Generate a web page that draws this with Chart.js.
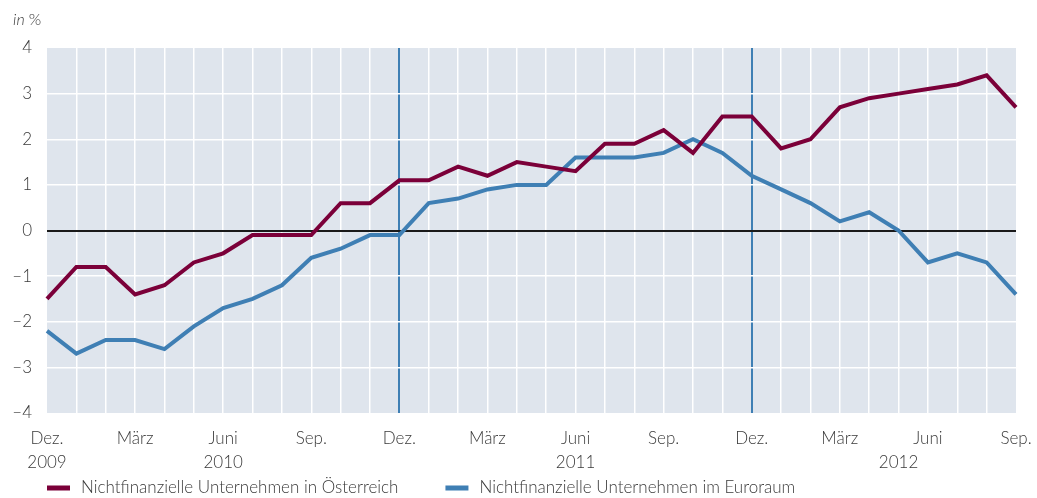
<!DOCTYPE html>
<html lang="de">
<head>
    <meta charset="UTF-8">
    <title>Nichtfinanzielle Unternehmen</title>
    <script src="https://cdn.jsdelivr.net/npm/chart.js"></script>
    <style>
        html, body { margin: 0; padding: 0; background: #fff; }
        .chart-box { position: relative; width: 1037px; height: 498px; }
    </style>
</head>
<body>
    <div class="chart-box">
        <canvas id="kreditChart"></canvas>
    </div>

    <script>
        // Monate Dez. 2009 bis Sep. 2012
        var monthLabels = ['Dez.', '', '', 'März', '', '', 'Juni', '', '', 'Sep.', '', '',
            'Dez.', '', '', 'März', '', '', 'Juni', '', '', 'Sep.', '', '',
            'Dez.', '', '', 'März', '', '', 'Juni', '', '', 'Sep.'];
        var yearLabels = ['2009', '', '', '', '', '', '2010', '', '', '', '', '',
            '', '', '', '', '', '', '2011', '', '', '', '', '',
            '', '', '', '', '', '2012', '', '', '', ''];

        var austria = [-1.5, -0.8, -0.8, -1.4, -1.2, -0.7, -0.5, -0.1, -0.1, -0.1, 0.6, 0.6,
            1.1, 1.1, 1.4, 1.2, 1.5, 1.4, 1.3, 1.9, 1.9, 2.2, 1.7, 2.5,
            2.5, 1.8, 2.0, 2.7, 2.9, 3.0, 3.1, 3.2, 3.4, 2.7];
        var euroArea = [-2.2, -2.7, -2.4, -2.4, -2.6, -2.1, -1.7, -1.5, -1.2, -0.6, -0.4, -0.1,
            -0.1, 0.6, 0.7, 0.9, 1.0, 1.0, 1.6, 1.6, 1.6, 1.7, 2.0, 1.7,
            1.2, 0.9, 0.6, 0.2, 0.4, 0.0, -0.7, -0.5, -0.7, -1.4];

        var seriesNames = ['Nichtfinanzielle Unternehmen in Österreich', 'Nichtfinanzielle Unternehmen im Euroraum'];
        var yTicks = [-4, -3, -2, -1, 0, 1, 2, 3, 4];
        var yearMarkers = [12, 24]; // Dez. 2010, Dez. 2011

        var fontFamily = "Lato, 'Open Sans', sans-serif";
        var textColor = '#3a3a3a';

        // plot background
        var plotBackground = {
            id: 'plotBackground',
            beforeDraw: function (chart) {
                var a = chart.chartArea, ctx = chart.ctx;
                ctx.save();
                ctx.fillStyle = '#dfe5ed';
                ctx.fillRect(a.left, a.top, a.right - a.left, a.bottom - a.top);
                ctx.restore();
            }
        };

        // "in %" label and legend at the bottom
        var extras = {
            id: 'extras',
            afterDraw: function (chart) {
                var ctx = chart.ctx, a = chart.chartArea;
                ctx.save();
                ctx.fillStyle = textColor;
                ctx.textBaseline = 'middle';
                ctx.font = 'italic 300 16px ' + fontFamily;
                ctx.fillText('in', 13, 20);
                var w = ctx.measureText('in ').width;
                ctx.font = '300 16px ' + fontFamily;
                ctx.fillText('%', 13 + w, 20);

                ctx.font = '300 17px ' + fontFamily;
                var x = a.left, y = 488;
                chart.data.datasets.forEach(function (ds) {
                    ctx.fillStyle = ds.borderColor;
                    ctx.fillRect(x, y - 2.5, 23, 5);
                    ctx.fillStyle = textColor;
                    ctx.fillText(ds.label, x + 34, y);
                    x += 34 + ctx.measureText(ds.label).width + 47;
                });
                ctx.restore();
            }
        };

        var ctx = document.getElementById('kreditChart').getContext('2d');
        var kreditChart = new Chart(ctx, {
            type: 'line',
            data: {
                labels: monthLabels,
                datasets: [{
                    label: seriesNames[0],
                    data: austria,
                    borderColor: '#7b0039',
                    borderWidth: 4,
                    pointRadius: 0,
                    tension: 0,
                    fill: false
                }, {
                    label: seriesNames[1],
                    data: euroArea,
                    borderColor: '#3f7fb4',
                    borderWidth: 4,
                    pointRadius: 0,
                    tension: 0,
                    fill: false
                }]
            },
            options: {
                responsive: true,
                maintainAspectRatio: false,
                animation: false,
                layout: { padding: { top: 48, right: 21, bottom: 0, left: 0 } },
                plugins: {
                    legend: { display: false },
                    tooltip: { enabled: false }
                },
                scales: {
                    x: {
                        offset: false,
                        afterFit: function (scale) {
                            scale.height = 85;
                            scale.paddingLeft = 0;
                            scale.paddingRight = 0;
                        },
                        border: { display: false },
                        grid: {
                            drawTicks: false,
                            color: function (c) {
                                var i = c.index;
                                if (i === 0 || i === monthLabels.length - 1) return 'rgba(0,0,0,0)';
                                return yearMarkers.indexOf(i) >= 0 ? '#3f7fb4' : '#ffffff';
                            },
                            lineWidth: function (c) {
                                return yearMarkers.indexOf(c.index) >= 0 ? 2 : 1.5;
                            }
                        },
                        ticks: {
                            autoSkip: false,
                            maxRotation: 0,
                            padding: 13,
                            color: textColor,
                            font: { family: fontFamily, size: 17, weight: 300, lineHeight: 1.45 },
                            callback: function (value, index) {
                                var m = monthLabels[index], y = yearLabels[index];
                                if (!m && !y) return '';
                                return y ? [m, y] : m;
                            }
                        }
                    },
                    y: {
                        min: yTicks[0],
                        max: yTicks[yTicks.length - 1],
                        afterFit: function (scale) { scale.width = 47; },
                        afterBuildTicks: function (scale) {
                            scale.ticks = yTicks.map(function (v) { return { value: v }; });
                        },
                        border: { display: false },
                        grid: {
                            drawTicks: false,
                            color: function (c) {
                                var v = c.tick.value;
                                if (v === yTicks[0] || v === yTicks[yTicks.length - 1]) return 'rgba(0,0,0,0)';
                                return v === 0 ? '#1a1a1a' : '#ffffff';
                            },
                            lineWidth: function (c) {
                                return c.tick.value === 0 ? 2 : 1.5;
                            }
                        },
                        ticks: {
                            padding: 15,
                            color: textColor,
                            font: { family: fontFamily, size: 17, weight: 300 },
                            callback: function (v) {
                                return String(v).replace('-', '\u2013');
                            }
                        }
                    }
                }
            },
            plugins: [plotBackground, extras]
        });
    </script>
</body>
</html>
